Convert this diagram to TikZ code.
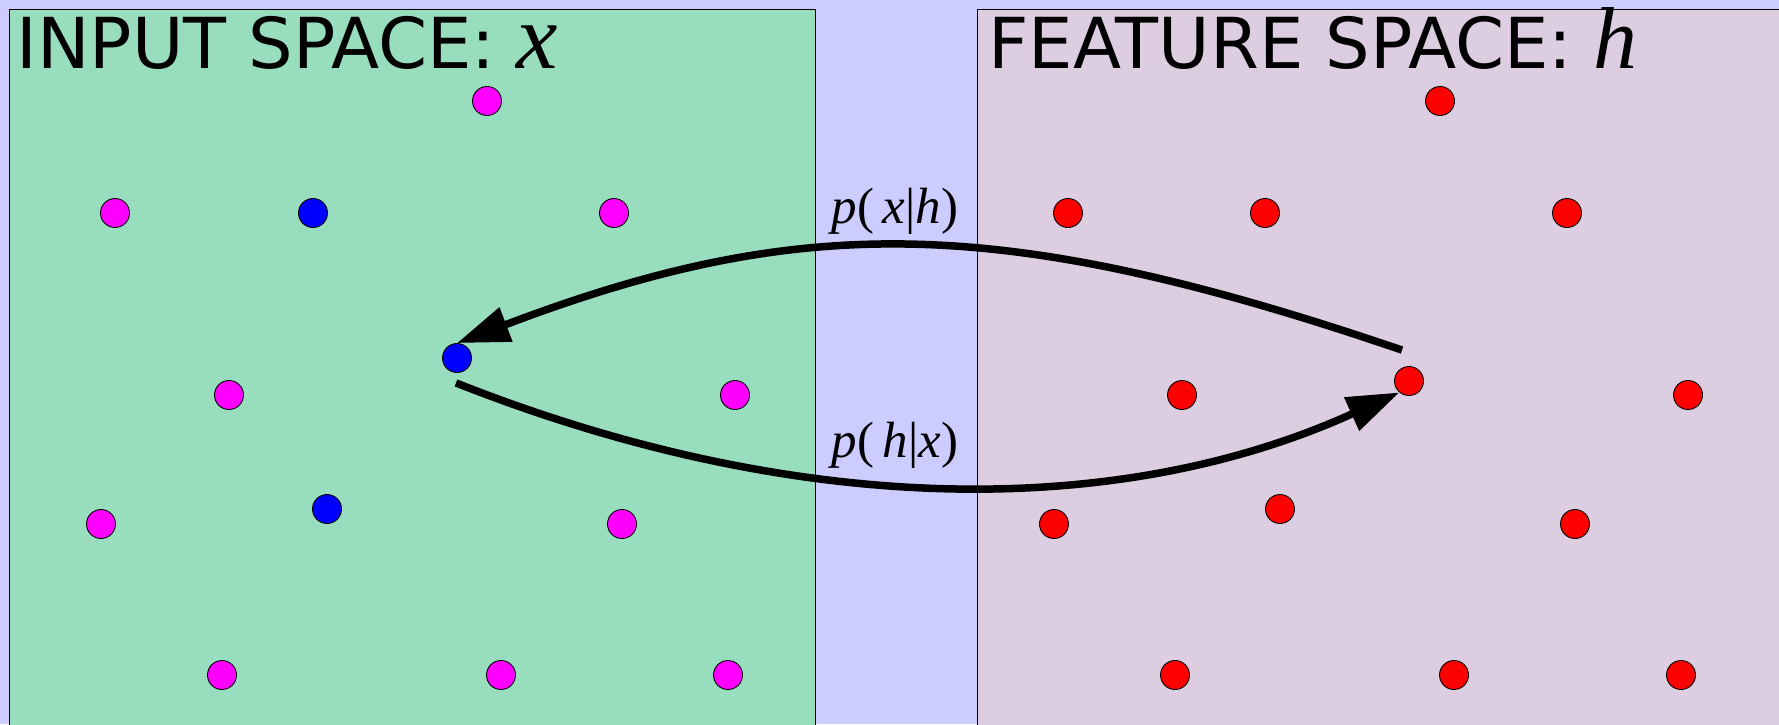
\documentclass[tikz,border=0pt]{standalone}
\usepackage{fontspec}
\setmainfont{Liberation Serif}
\newfontfamily\titlefont{DejaVu Sans}
\usetikzlibrary{arrows.meta}
\definecolor{lavbg}{RGB}{204,204,255}
\definecolor{ingreen}{RGB}{153,221,191}
\definecolor{featpink}{RGB}{220,205,224}
\definecolor{inpink}{RGB}{255,0,255}
\definecolor{inblue}{RGB}{0,0,255}
\definecolor{featred}{RGB}{255,0,0}

\begin{document}
\begin{tikzpicture}[x=0.02cm,y=-0.02cm,
  dot/.style={circle,draw=black,line width=0.5pt,minimum size=0.58cm,inner sep=0pt},
  arr/.style={line width=0.15cm,-{Triangle[length=1.05cm,width=0.7cm]}},
  ttl/.style={anchor=base west,inner sep=0pt,font=\titlefont\fontsize{40}{40}\selectfont},
  lbl/.style={anchor=base,inner sep=0pt,font=\fontsize{29}{29}\selectfont}]
\clip (0,0) rectangle (1779,724);
\fill[lavbg] (0,0) rectangle (1779,724);
% the two spaces
\draw[fill=ingreen] (9,9) rectangle (815,760);
\draw[fill=featpink] (977,9) rectangle (1800,760);
\node[ttl] (tin) at (16,68) {INPUT SPACE:\hspace{0.42cm}{\rmfamily\itshape\fontsize{53}{53}\selectfont x}};
\node[ttl] (tfeat) at (988,68) {FEATURE SPACE:\hspace{0.42cm}{\rmfamily\itshape\fontsize{50}{50}\selectfont h}};
% input points
\foreach \n/\x/\y in {1/487/101,2/115/213,3/614/213,4/229/395,5/735/395,6/101/524,
    7/622/524,8/222/675,9/501/675,10/728/675}
  \node[dot,fill=inpink] (m\n) at (\x,\y) {};
\node[dot,fill=inblue] (b1) at (313,213) {};
\node[dot,fill=inblue] (b2) at (457,358) {};
\node[dot,fill=inblue] (b3) at (327,509) {};
% feature points
\foreach \n/\x/\y in {1/1440/101,2/1068/213,3/1265/213,4/1567/213,5/1409/381,6/1182/395,
    7/1688/395,8/1054/524,9/1280/509,10/1575/524,11/1175/675,12/1454/675,13/1681/675}
  \node[dot,fill=featred] (r\n) at (\x,\y) {};
% conditionals
\draw[arr] ([shift={(-7,-16)}]r5.north) .. controls (1000,213) and (800,213) .. (b2.north);
\draw[arr] ([shift={(-1,10)}]b2.south) .. controls (800,519) and (1120,519) .. (r5.230);
\node[lbl] (pxh) at (895,223) {\textit{p}(\,\textit{x}|\textit{h})};
\node[lbl] (phx) at (895,457) {\textit{p}(\,\textit{h}|\textit{x})};
\end{tikzpicture}
\end{document}
